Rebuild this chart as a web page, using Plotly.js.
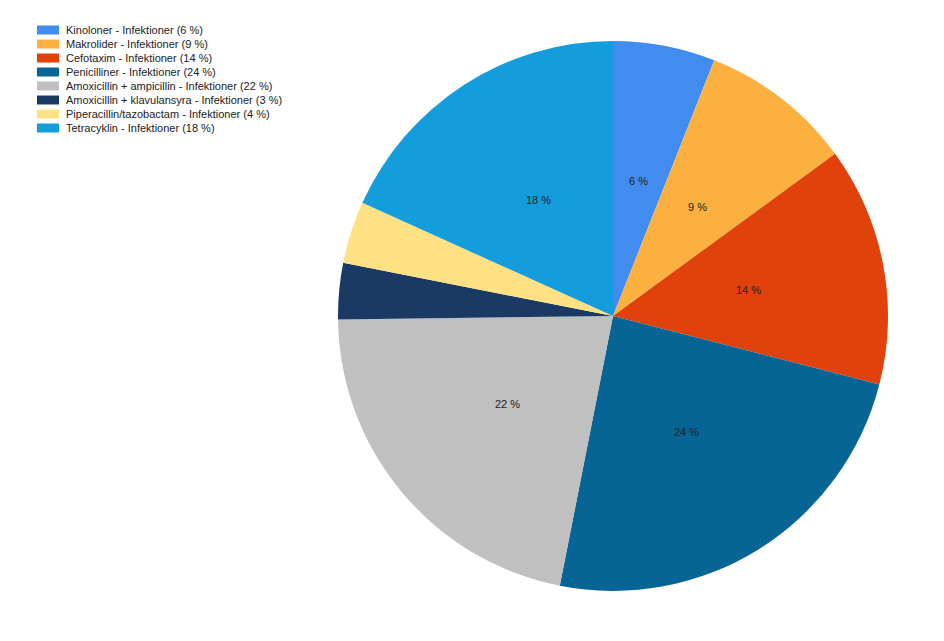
<!DOCTYPE html>
<html>
<head>
<meta charset="utf-8">
<script src="https://cdn.plot.ly/plotly-3.0.1.min.js"></script>
<style>html,body{margin:0;padding:0;background:#fff;}#chart{width:944px;height:641px;}</style>
</head>
<body>
<div id="chart"></div>
<script>
const categories = [
  "Kinoloner - Infektioner",
  "Makrolider - Infektioner",
  "Cefotaxim - Infektioner",
  "Penicilliner - Infektioner",
  "Amoxicillin + ampicillin - Infektioner",
  "Amoxicillin + klavulansyra - Infektioner",
  "Piperacillin/tazobactam - Infektioner",
  "Tetracyklin - Infektioner"
];
// estimated shares (%) read from slice boundaries
const values = [6.0, 8.96, 14.04, 24.1, 21.7, 3.3, 3.65, 18.25];
const colors = ["#428bef", "#fbb040", "#e1410a", "#066594", "#c0c0c0", "#1b3a63", "#fde183", "#149ddc"];

const W = 944, H = 641;
const cx = 613, cy = 316, R = 275;
const font = "Arial, 'Liberation Sans', sans-serif";

const trace = {
  type: "pie",
  labels: categories,
  values: values,
  sort: false,
  direction: "clockwise",
  rotation: 0,
  textinfo: "none",
  hoverinfo: "label+percent",
  marker: {colors: colors, line: {width: 0}},
  domain: {x: [(cx - R) / W, (cx + R) / W], y: [(H - cy - R) / H, (H - cy + R) / H]},
  showlegend: false
};

const total = values.reduce((a, b) => a + b, 0);
const annotations = [];
const shapes = [];
let cum = 0;
values.forEach((v, i) => {
  const mid = (cum + v / 2) / total * 2 * Math.PI;
  cum += v;
  const pct = Math.round(v / total * 100);
  if (pct >= 5) {
    const px = cx + 0.5 * R * Math.sin(mid);
    const py = cy - 0.5 * R * Math.cos(mid);
    annotations.push({
      x: px / W, y: 1 - py / H, xref: "paper", yref: "paper",
      text: pct + " %", showarrow: false,
      font: {family: font, size: 11, color: "#222"},
      xanchor: "center", yanchor: "middle"
    });
  }
  // custom legend
  const rowY = 30 + 14 * i;
  shapes.push({
    type: "rect", xref: "paper", yref: "paper",
    x0: 37 / W, x1: 59 / W, y0: 1 - (rowY - 4.5) / H, y1: 1 - (rowY + 4.5) / H,
    fillcolor: colors[i], line: {width: 0}
  });
  annotations.push({
    x: 64 / W, y: 1 - rowY / H, xref: "paper", yref: "paper",
    text: categories[i] + " (" + pct + " %)", showarrow: false,
    font: {family: font, size: 11, color: "#222"},
    xanchor: "left", yanchor: "middle"
  });
});

const layout = {
  width: W, height: H,
  margin: {l: 0, r: 0, t: 0, b: 0},
  paper_bgcolor: "#ffffff",
  showlegend: false,
  annotations: annotations,
  shapes: shapes
};

Plotly.newPlot("chart", [trace], layout, {displayModeBar: false, staticPlot: true});
</script>
</body>
</html>
